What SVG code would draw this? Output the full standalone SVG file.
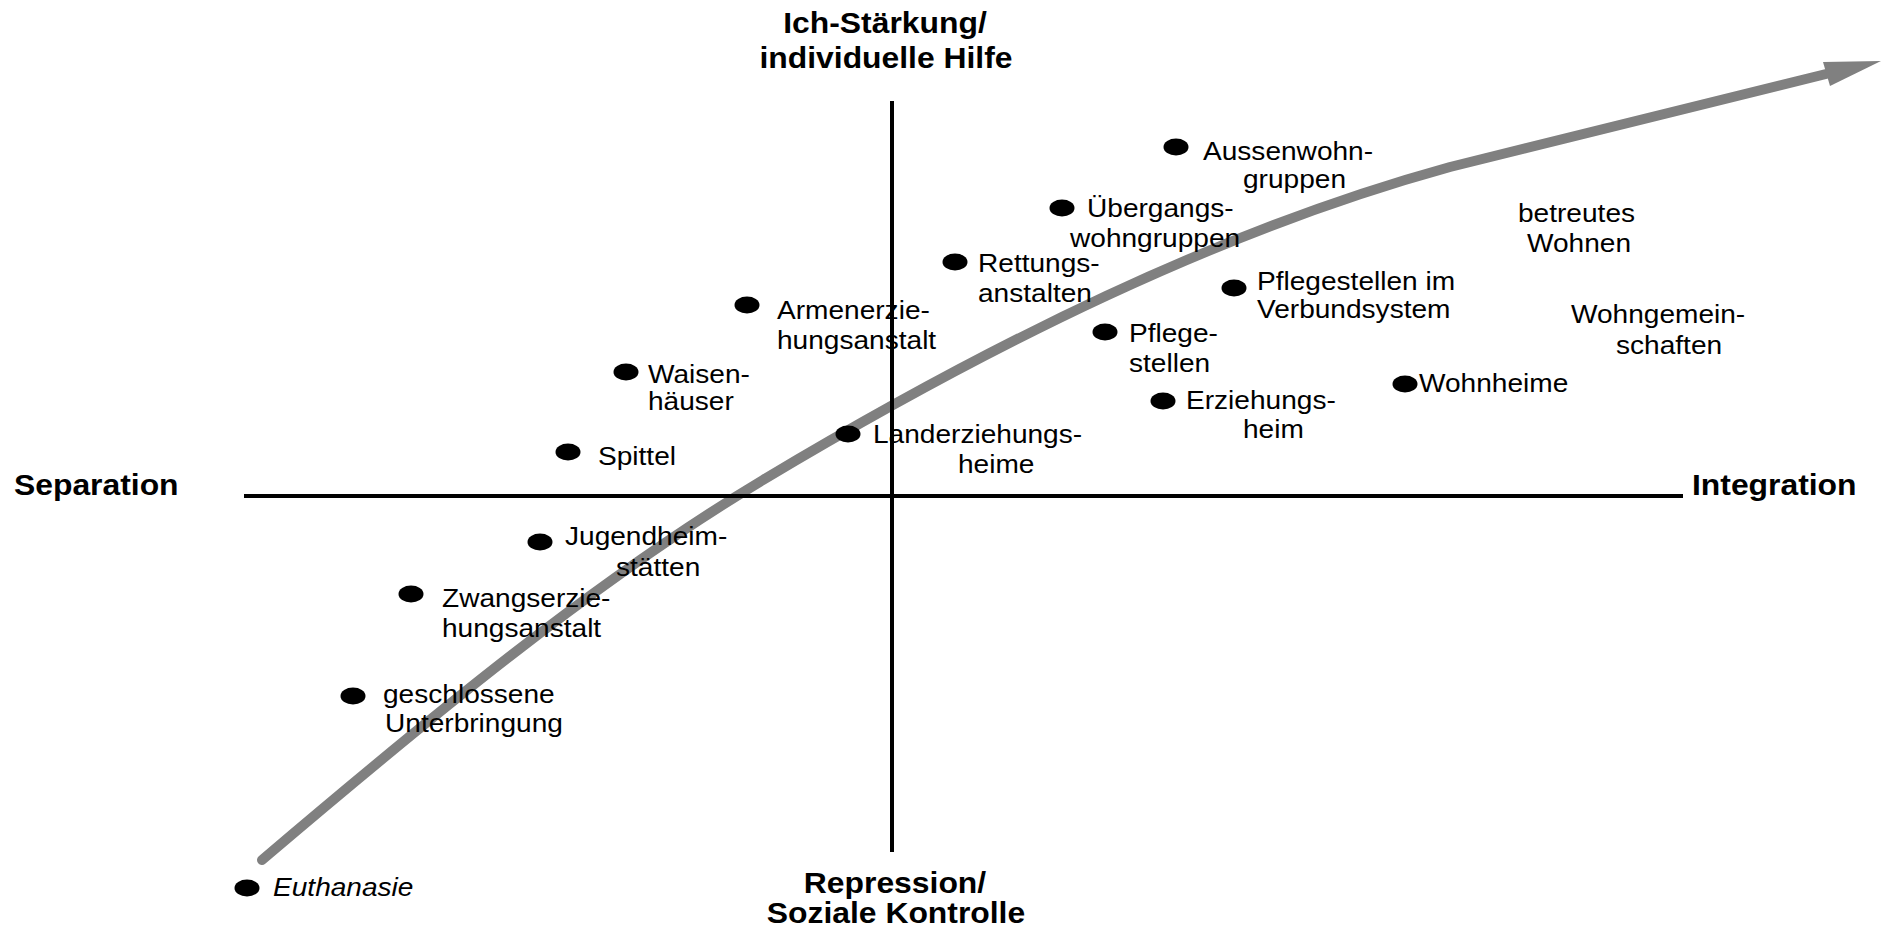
<svg xmlns="http://www.w3.org/2000/svg" width="1887" height="934" viewBox="0 0 1887 934">
<style>
.t{font-family:"Liberation Sans",Arial,sans-serif;font-size:26px;fill:#000}
.b{font-weight:bold;font-size:29.5px}
.m{text-anchor:middle}
.i{font-style:italic}
.dot{fill:#000}
.axis{stroke:#000;stroke-width:4;fill:none}
.curve{stroke:#808080;stroke-width:10;fill:none;stroke-linecap:round;stroke-linejoin:round}
</style>
<rect width="1887" height="934" fill="#fff"/>
<g id="connectors">
<path class="curve" d="M262,860 C429,718 596,580 763,480 C992,343 1221,230 1450,167 L1826,74"/>
<polygon points="1881,61 1823,62 1830,86" fill="#808080"/>
<line class="axis" x1="244" y1="496" x2="1683" y2="496"/>
<line class="axis" x1="892" y1="101" x2="892" y2="852"/>
</g>
<g id="axis-labels">
<text class="t b m" transform="translate(885,33) scale(1.08,1)">Ich-Stärkung/</text>
<text class="t b m" transform="translate(886,68) scale(1.08,1)">individuelle Hilfe</text>
<text class="t b m" transform="translate(895,893) scale(1.08,1)">Repression/</text>
<text class="t b m" transform="translate(896,923) scale(1.08,1)">Soziale Kontrolle</text>
<text class="t b" transform="translate(14,495) scale(1.08,1)">Separation</text>
<text class="t b" transform="translate(1692,495) scale(1.08,1)">Integration</text>
</g>
<g id="n-aussenwohngruppen">
<ellipse class="dot" cx="1176" cy="147" rx="12.5" ry="8.5"/>
<text class="t" transform="translate(1203,160) scale(1.08,1)">Aussenwohn-</text>
<text class="t" transform="translate(1243,188) scale(1.08,1)">gruppen</text>
</g>
<g id="n-uebergangswohngruppen">
<ellipse class="dot" cx="1062" cy="208" rx="12.5" ry="8.5"/>
<text class="t" transform="translate(1087,217) scale(1.08,1)">Übergangs-</text>
<text class="t" transform="translate(1070,247) scale(1.08,1)">wohngruppen</text>
</g>
<g id="n-rettungsanstalten">
<ellipse class="dot" cx="955" cy="262" rx="12.5" ry="8.5"/>
<text class="t" transform="translate(978,272) scale(1.08,1)">Rettungs-</text>
<text class="t" transform="translate(978,302) scale(1.08,1)">anstalten</text>
</g>
<g id="n-armenerziehungsanstalt">
<ellipse class="dot" cx="747" cy="305" rx="12.5" ry="8.5"/>
<text class="t" transform="translate(777,319) scale(1.08,1)">Armenerzie-</text>
<text class="t" transform="translate(777,349) scale(1.08,1)">hungsanstalt</text>
</g>
<g id="n-waisenhaeuser">
<ellipse class="dot" cx="626" cy="372" rx="12.5" ry="8.5"/>
<text class="t" transform="translate(648,383) scale(1.08,1)">Waisen-</text>
<text class="t" transform="translate(648,410) scale(1.08,1)">häuser</text>
</g>
<g id="n-spittel">
<ellipse class="dot" cx="568" cy="452" rx="12.5" ry="8.5"/>
<text class="t" transform="translate(598,465) scale(1.08,1)">Spittel</text>
</g>
<g id="n-landerziehungsheime">
<ellipse class="dot" cx="848" cy="434" rx="12.5" ry="8.5"/>
<text class="t" transform="translate(873,443) scale(1.08,1)">Landerziehungs-</text>
<text class="t" transform="translate(958,473) scale(1.08,1)">heime</text>
</g>
<g id="n-pflegestellen-verbund">
<ellipse class="dot" cx="1234" cy="288" rx="12.5" ry="8.5"/>
<text class="t" transform="translate(1257,290) scale(1.08,1)">Pflegestellen im</text>
<text class="t" transform="translate(1257,318) scale(1.08,1)">Verbundsystem</text>
</g>
<g id="n-pflegestellen">
<ellipse class="dot" cx="1105" cy="332" rx="12.5" ry="8.5"/>
<text class="t" transform="translate(1129,342) scale(1.08,1)">Pflege-</text>
<text class="t" transform="translate(1129,372) scale(1.08,1)">stellen</text>
</g>
<g id="n-erziehungsheim">
<ellipse class="dot" cx="1163" cy="401" rx="12.5" ry="8.5"/>
<text class="t" transform="translate(1186,409) scale(1.08,1)">Erziehungs-</text>
<text class="t" transform="translate(1243,438) scale(1.08,1)">heim</text>
</g>
<g id="n-wohnheime">
<ellipse class="dot" cx="1405" cy="384" rx="12.5" ry="8.5"/>
<text class="t" transform="translate(1419,392) scale(1.08,1)">Wohnheime</text>
</g>
<g id="n-betreutes-wohnen">
<text class="t" transform="translate(1518,222) scale(1.08,1)">betreutes</text>
<text class="t" transform="translate(1527,252) scale(1.08,1)">Wohnen</text>
</g>
<g id="n-wohngemeinschaften">
<text class="t" transform="translate(1571,323) scale(1.08,1)">Wohngemein-</text>
<text class="t" transform="translate(1616,354) scale(1.08,1)">schaften</text>
</g>
<g id="n-jugendheimstaetten">
<ellipse class="dot" cx="540" cy="542" rx="12.5" ry="8.5"/>
<text class="t" transform="translate(565,545) scale(1.08,1)">Jugendheim-</text>
<text class="t" transform="translate(616,576) scale(1.08,1)">stätten</text>
</g>
<g id="n-zwangserziehungsanstalt">
<ellipse class="dot" cx="411" cy="594" rx="12.5" ry="8.5"/>
<text class="t" transform="translate(442,607) scale(1.08,1)">Zwangserzie-</text>
<text class="t" transform="translate(442,637) scale(1.08,1)">hungsanstalt</text>
</g>
<g id="n-geschlossene-unterbringung">
<ellipse class="dot" cx="353" cy="696" rx="12.5" ry="8.5"/>
<text class="t" transform="translate(383,703) scale(1.08,1)">geschlossene</text>
<text class="t" transform="translate(385,732) scale(1.08,1)">Unterbringung</text>
</g>
<g id="n-euthanasie">
<ellipse class="dot" cx="247" cy="888" rx="12.5" ry="8.5"/>
<text class="t i" transform="translate(273,896) scale(1.08,1)">Euthanasie</text>
</g>
</svg>
